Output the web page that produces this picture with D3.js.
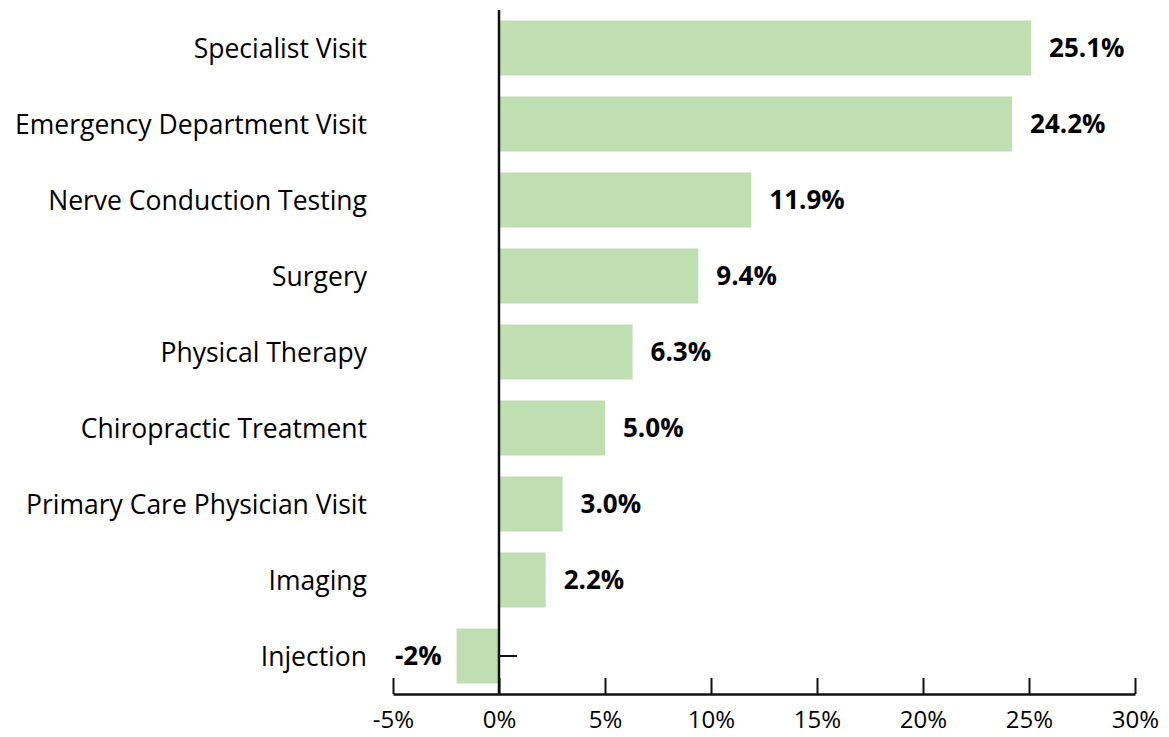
<!DOCTYPE html>
<html>
<head>
<meta charset="utf-8">
<script src="https://cdn.jsdelivr.net/npm/d3@7"></script>
<style>
  html, body { margin: 0; padding: 0; background: #fff; }
  svg { display: block; }
  text { font-family: "Open Sans", "Noto Sans", sans-serif; fill: #000; }
</style>
</head>
<body>
<svg id="chart" width="1169" height="737"></svg>
<script>
const categories = [
  "Specialist Visit",
  "Emergency Department Visit",
  "Nerve Conduction Testing",
  "Surgery",
  "Physical Therapy",
  "Chiropractic Treatment",
  "Primary Care Physician Visit",
  "Imaging",
  "Injection"
];
const values = [25.1, 24.2, 11.9, 9.4, 6.3, 5.0, 3.0, 2.2, -2];
const valueLabels = ["25.1%", "24.2%", "11.9%", "9.4%", "6.3%", "5.0%", "3.0%", "2.2%", "-2%"];
const xTicks = [-5, 0, 5, 10, 15, 20, 25, 30];

const svg = d3.select("#chart");
const axisY = 694;
const x = d3.scaleLinear().domain([-5, 30]).range([393, 1135]);
const y = d3.scaleBand().domain(categories).range([10, axisY]).paddingInner(0.276).paddingOuter(0.138);

// bars
svg.append("g").selectAll("rect").data(categories).join("rect")
  .attr("x", (d, i) => x(Math.min(0, values[i])))
  .attr("y", d => y(d))
  .attr("width", (d, i) => Math.abs(x(values[i]) - x(0)))
  .attr("height", y.bandwidth())
  .attr("fill", "#bfdfb3");

// zero line
svg.append("line")
  .attr("x1", x(0)).attr("x2", x(0))
  .attr("y1", 10).attr("y2", axisY)
  .attr("stroke", "#111").attr("stroke-width", 2.5);

// small tick at the zero line next to negative bar
categories.forEach((c, i) => {
  if (values[i] < 0) {
    svg.append("line")
      .attr("x1", x(0)).attr("x2", x(0) + 18)
      .attr("y1", y(c) + y.bandwidth() / 2).attr("y2", y(c) + y.bandwidth() / 2)
      .attr("stroke", "#111").attr("stroke-width", 2);
  }
});

// category labels
svg.append("g").selectAll("text").data(categories).join("text")
  .attr("x", 367)
  .attr("y", d => y(d) + y.bandwidth() / 2)
  .attr("dy", "0.38em")
  .attr("text-anchor", "end")
  .attr("font-size", 26.5)
  .text(d => d);

// value labels
svg.append("g").selectAll("text").data(categories).join("text")
  .attr("x", (d, i) => values[i] >= 0 ? x(values[i]) + 18 : x(values[i]) - 15)
  .attr("y", d => y(d) + y.bandwidth() / 2)
  .attr("dy", "0.36em")
  .attr("text-anchor", (d, i) => values[i] >= 0 ? "start" : "end")
  .attr("font-size", 26)
  .attr("font-weight", "bold")
  .text((d, i) => valueLabels[i]);

// bottom axis
const xAxis = d3.axisBottom(x)
  .tickValues(xTicks)
  .tickFormat(d => d + "%")
  .tickSize(-16)
  .tickSizeOuter(0)
  .tickPadding(17);
const gx = svg.append("g").attr("transform", `translate(0,${axisY})`).call(xAxis);
gx.select(".domain").attr("stroke", "#111").attr("stroke-width", 2.5);
gx.selectAll(".tick line").attr("stroke", "#111").attr("stroke-width", 2);
gx.selectAll(".tick text")
  .attr("font-size", 24)
  .attr("font-family", "'Open Sans', 'Noto Sans', sans-serif")
  .attr("fill", "#000");
</script>
</body>
</html>
